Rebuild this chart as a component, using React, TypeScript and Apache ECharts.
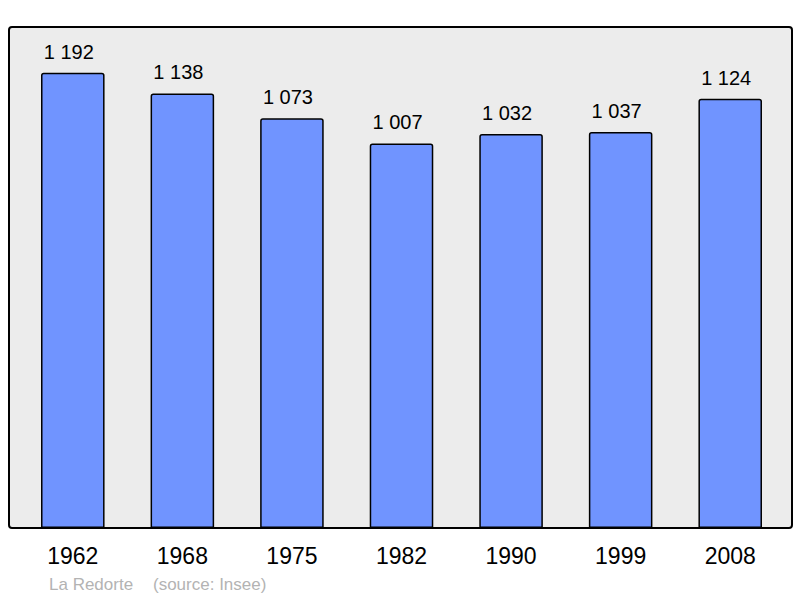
import React, { useEffect, useRef } from "react";
import * as echarts from "echarts";

const years = ["1962", "1968", "1975", "1982", "1990", "1999", "2008"];
const population = [1192, 1138, 1073, 1007, 1032, 1037, 1124];
const townName = "La Redorte";
const sourceText = "(source: Insee)";

const fmt = (v: number) => {
  const s = String(v);
  return s.length > 3 ? s.slice(0, s.length - 3) + " " + s.slice(-3) : s;
};

export default function App() {
  const ref = useRef<HTMLDivElement>(null);
  useEffect(() => {
    if (!ref.current) return;
    const chart = echarts.init(ref.current, undefined, { renderer: "svg" });
    chart.setOption({
      animation: false,
      backgroundColor: "#ffffff",
      textStyle: { fontFamily: "Liberation Sans, Arial, sans-serif" },
      graphic: [
        {
          type: "rect",
          z: -10,
          shape: { x: 9, y: 27, width: 783, height: 501, r: 3 },
          style: { fill: "#ececec", stroke: "#000000", lineWidth: 2 },
        },
        {
          type: "text",
          left: 49,
          top: 576,
          style: {
            text: townName,
            fill: "#b3b3b3",
            fontSize: 17,
            fontFamily: "Liberation Sans, Arial, sans-serif",
          },
        },
        {
          type: "text",
          left: 153,
          top: 576,
          style: {
            text: sourceText,
            fill: "#b3b3b3",
            fontSize: 17,
            fontFamily: "Liberation Sans, Arial, sans-serif",
          },
        },
      ],
      grid: { left: 18, width: 767, top: 27, height: 501, containLabel: false },
      xAxis: {
        type: "category",
        data: years,
        axisLine: { show: false },
        axisTick: { show: false },
        axisLabel: {
          color: "#000000",
          fontSize: 23,
          margin: 16,
          fontFamily: "Liberation Sans, Arial, sans-serif",
        },
      },
      yAxis: {
        type: "value",
        min: 0,
        max: 1312,
        show: false,
        splitLine: { show: false },
      },
      series: [
        {
          type: "bar",
          data: population,
          barWidth: "58%",
          itemStyle: {
            color: "#7094ff",
            borderColor: "#000000",
            borderWidth: 1.5,
            borderRadius: [2, 2, 0, 0],
          },
          label: {
            show: true,
            position: "top",
            distance: 11,
            offset: [-4, 0],
            color: "#000000",
            fontSize: 20,
            fontFamily: "Liberation Sans, Arial, sans-serif",
            formatter: (p: any) => fmt(p.value),
          },
        },
      ],
    });
    return () => chart.dispose();
  }, []);
  return (
    <div
      ref={ref}
      style={{ position: "fixed", left: 0, top: 0, width: 800, height: 598 }}
    />
  );
}
